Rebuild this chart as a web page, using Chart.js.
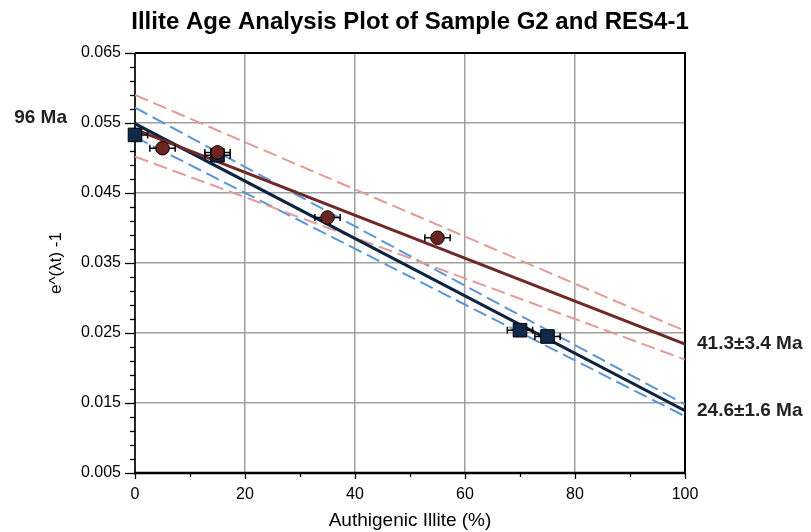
<!DOCTYPE html>
<html>
<head>
<meta charset="utf-8">
<script src="https://cdn.jsdelivr.net/npm/chart.js@4/dist/chart.umd.min.js"></script>
<style>
html,body{margin:0;padding:0;background:#fff;}
#wrap{width:811px;height:532px;}
</style>
</head>
<body>
<div id="wrap"><canvas id="c" width="811" height="532"></canvas></div>
<script>
// ---- text ----
const titleText = 'Illite Age Analysis Plot of Sample G2 and RES4-1';
const xTitleText = 'Authigenic Illite (%)';
const yTitleText = 'e^(λt) -1';
const ageLabels = ['96 Ma', '41.3±3.4 Ma', '24.6±1.6 Ma'];

// ---- axis ranges / ticks ----
const xRange = [0, 100];
const xStep = 10;
const xLabelEvery = 20;
const yRange = [0.005, 0.065];
const yStep = 0.002;
const yLabelEvery = 5; // label every 5th minor step (0.01)

// ---- data: circles (G2) ----
const g2X = [5, 15, 35, 55];
const g2Y = [0.0514, 0.0508, 0.0415, 0.0386];
const g2XErr = [2.3, 2.3, 2.3, 2.3];

// ---- data: squares (RES4-1) ----
const resX = [0, 15, 70, 75];
const resY = [0.0533, 0.0504, 0.0254, 0.0245];
const resXErr = [2.3, 2.3, 2.3, 2.3];

// ---- regression lines (values at x = 0 and x = 100) ----
const fitX = [0, 100];
const g2Fit = [0.0541, 0.0234];
const g2Upper = [0.0590, 0.0253];
const g2Lower = [0.0502, 0.0212];
const resFit = [0.0549, 0.0139];
const resUpper = [0.0572, 0.0148];
const resLower = [0.0530, 0.0131];

const FONT = "'Liberation Sans', Arial, sans-serif";

function pts(xs, ys) { return xs.map((x, i) => ({ x: x, y: ys[i] })); }

function lineDs(label, ys, color, width, dash) {
  return {
    type: 'line', label: label, data: pts(fitX, ys), showLine: true,
    borderColor: color, borderWidth: width, borderDash: dash || [],
    pointRadius: 0, fill: false, tension: 0, borderCapStyle: 'butt'
  };
}

const decor = {
  id: 'decor',
  beforeDatasetsDraw(chart) {
    const ctx = chart.ctx, a = chart.chartArea;
    const xs = chart.scales.x, ys = chart.scales.y;
    ctx.save();
    ctx.strokeStyle = '#000';
    // tick marks
    ctx.lineWidth = 1.3;
    ys.ticks.forEach((t, i) => {
      const y = Math.round(ys.getPixelForValue(t.value)) + 0.5;
      const len = (i % yLabelEvery === 0) ? 10 : 5;
      ctx.beginPath(); ctx.moveTo(a.left - len, y); ctx.lineTo(a.left, y); ctx.stroke();
    });
    xs.ticks.forEach((t) => {
      const x = Math.round(xs.getPixelForValue(t.value)) + 0.5;
      const len = (Math.round(t.value) % xLabelEvery === 0) ? 6 : 4;
      ctx.beginPath(); ctx.moveTo(x, a.bottom); ctx.lineTo(x, a.bottom + len); ctx.stroke();
    });
    // frame
    ctx.lineWidth = 2;
    ctx.beginPath(); ctx.moveTo(a.left, a.top); ctx.lineTo(a.right, a.top); ctx.lineTo(a.right, a.bottom); ctx.stroke();
    ctx.lineWidth = 1.7;
    ctx.beginPath(); ctx.moveTo(a.left, a.top); ctx.lineTo(a.left, a.bottom); ctx.stroke();
    ctx.lineWidth = 2.3;
    ctx.beginPath(); ctx.moveTo(a.left - 1, a.bottom); ctx.lineTo(a.right + 1, a.bottom); ctx.stroke();
    ctx.restore();
  },
  beforeDatasetDraw(chart, args) {
    const ds = chart.data.datasets[args.index];
    if (!ds.xErr) return;
    const ctx = chart.ctx, a = chart.chartArea;
    const xs = chart.scales.x, ys = chart.scales.y;
    ctx.save();
    ctx.beginPath(); ctx.rect(a.left, a.top - 20, a.right - a.left, a.bottom - a.top + 40); ctx.clip();
    ctx.strokeStyle = '#000';
    ctx.lineWidth = 1.5;
    ds.data.forEach((p, i) => {
      const e = ds.xErr[i];
      const x1 = xs.getPixelForValue(p.x - e), x2 = xs.getPixelForValue(p.x + e);
      const y = ys.getPixelForValue(p.y);
      ctx.beginPath();
      ctx.moveTo(x1, y); ctx.lineTo(x2, y);
      ctx.moveTo(x1, y - 3.5); ctx.lineTo(x1, y + 3.5);
      ctx.moveTo(x2, y - 3.5); ctx.lineTo(x2, y + 3.5);
      ctx.stroke();
    });
    ctx.restore();
  },
  afterDraw(chart) {
    const ctx = chart.ctx, a = chart.chartArea;
    const ys = chart.scales.y;
    ctx.save();
    // chart title centred over the plot area
    ctx.fillStyle = '#000';
    ctx.font = 'bold 24px ' + FONT;
    ctx.textAlign = 'center';
    ctx.textBaseline = 'middle';
    ctx.fillText(titleText, (a.left + a.right) / 2, 22);
    // age labels
    ctx.fillStyle = '#222';
    ctx.font = 'bold 19px ' + FONT;
    ctx.textAlign = 'right';
    ctx.fillText(ageLabels[0], a.left - 68, ys.getPixelForValue(resFit[0]) - 6);
    ctx.textAlign = 'left';
    ctx.fillText(ageLabels[1], a.right + 12, ys.getPixelForValue(g2Fit[1]));
    ctx.fillText(ageLabels[2], a.right + 12, ys.getPixelForValue(resFit[1]));
    ctx.restore();
  }
};

new Chart(document.getElementById('c'), {
  type: 'scatter',
  data: {
    datasets: [
      {
        label: 'G2', data: pts(g2X, g2Y), xErr: g2XErr,
        pointStyle: 'circle', pointRadius: 6.8,
        backgroundColor: '#6b2422', borderColor: '#000', borderWidth: 1,
        clip: false
      },
      {
        label: 'RES4-1', data: pts(resX, resY), xErr: resXErr,
        pointStyle: 'rect', pointRadius: 9.6,
        backgroundColor: '#10284a', borderColor: '#000', borderWidth: 1,
        clip: false
      },
      lineDs('G2 fit', g2Fit, '#6f2a27', 3),
      lineDs('RES4-1 fit', resFit, '#0d2340', 3),
      lineDs('G2 upper', g2Upper, '#e39a98', 2, [14, 6]),
      lineDs('G2 lower', g2Lower, '#e39a98', 2, [14, 6]),
      lineDs('RES4-1 upper', resUpper, '#5b95d6', 2, [14, 6]),
      lineDs('RES4-1 lower', resLower, '#5b95d6', 2, [14, 6])
    ]
  },
  options: {
    responsive: false,
    animation: false,
    events: [],
    layout: { padding: { left: 45, right: 126, top: 53, bottom: 0 } },
    plugins: {
      legend: { display: false },
      tooltip: { enabled: false },
      title: { display: false }
    },
    scales: {
      x: {
        type: 'linear', min: xRange[0], max: xRange[1],
        ticks: {
          stepSize: xStep, autoSkip: false, maxRotation: 0, padding: 12,
          color: '#000', font: { family: FONT, size: 16 },
          callback: (v) => (Math.round(v) % xLabelEvery === 0 ? String(v) : '')
        },
        grid: {
          drawTicks: false, lineWidth: 1.5,
          color: (c) => {
            const v = c.tick ? c.tick.value : null;
            return (v !== null && Math.round(v) % xLabelEvery === 0 && v > xRange[0] && v < xRange[1]) ? '#a0a0a0' : 'rgba(0,0,0,0)';
          }
        },
        border: { display: false },
        title: {
          display: true, text: xTitleText, color: '#000',
          font: { family: FONT, size: 19, lineHeight: 1.2 },
          padding: { top: 0, bottom: 0 }
        },
        afterFit: (s) => { s.height = 59; }
      },
      y: {
        type: 'linear', min: yRange[0], max: yRange[1],
        ticks: {
          stepSize: yStep, autoSkip: false, padding: 14,
          color: '#000', font: { family: FONT, size: 16 },
          callback: (v, i) => (i % yLabelEvery === 0 ? Number(v).toFixed(3) : '')
        },
        grid: {
          drawTicks: false, lineWidth: 1.5,
          color: (c) => {
            const i = c.index;
            const n = c.scale ? c.scale.ticks.length : 0;
            return (i % yLabelEvery === 0 && i > 0 && i < n - 1) ? '#a0a0a0' : 'rgba(0,0,0,0)';
          }
        },
        border: { display: false },
        title: {
          display: true, text: yTitleText, color: '#000',
          font: { family: FONT, size: 17, lineHeight: 1.2 },
          padding: { top: 1, bottom: 0 }
        },
        afterFit: (s) => { s.width = 90; }
      }
    }
  },
  plugins: [decor]
});
</script>
</body>
</html>
